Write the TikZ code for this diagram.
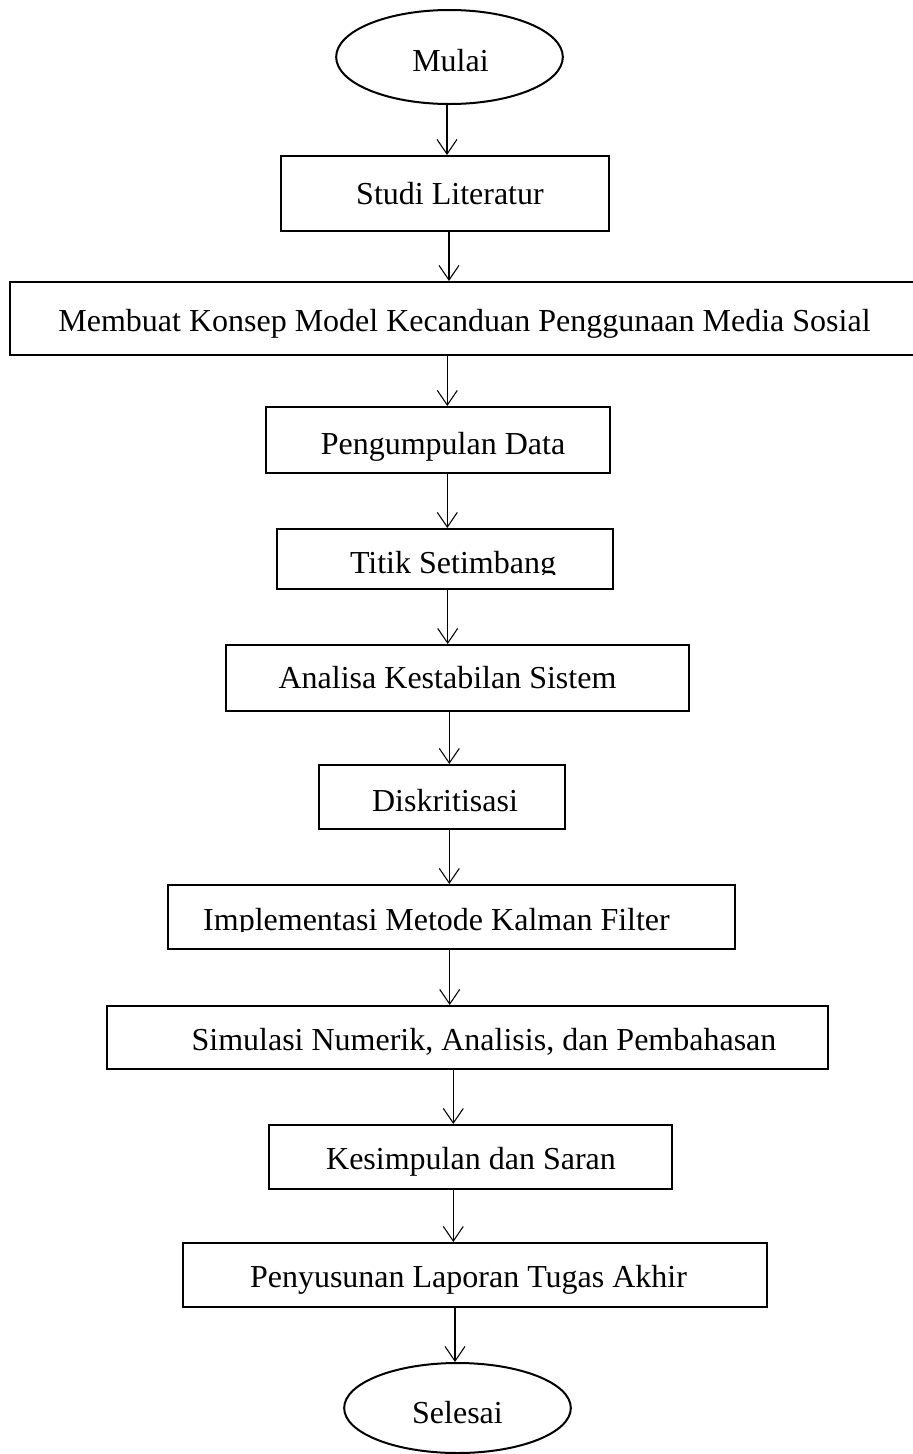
\documentclass[tikz,border=0pt]{standalone}
\usepackage{fontspec}
\setmainfont{Liberation Serif}
\usetikzlibrary{arrows.meta,shapes.geometric,fit}

\tikzset{
  box/.style={draw, line width=1.5pt, inner sep=0pt},
  oval/.style={draw, ellipse, line width=1.5pt, inner sep=0pt, minimum width=170pt},
  lbl/.style={anchor=base, inner sep=0pt, font=\fontsize{24}{28}\selectfont},
  arr/.style={-{Straight Barb[length=11pt,width=15pt]}, line width=0.8pt}
}

\begin{document}
\begin{tikzpicture}[x=0.75pt, y=-0.75pt]
    % Page frame
    \clip (0,0) rectangle (913,1454);

    % Start and end
    \node[oval, minimum height=70.5pt] (mulai) at (449.5,57) {};
    \node[oval, minimum height=67.5pt] (selesai) at (457.5,1408) {};

    % Steps
    \node[box, fit={(281,156) (609,231)}] (studi) {};
    \node[box, fit={(10,282) (930,355)}] (konsep) {};
    \node[box, fit={(266,407) (610,473)}] (data) {};
    \node[box, fit={(277,529) (612.5,589)}] (titik) {};
    \node[box, fit={(226,645) (689,711)}] (analisa) {};
    \node[box, fit={(319,765) (565,829)}] (diskrit) {};
    \node[box, fit={(168,885) (735,949)}] (kalman) {};
    \node[box, fit={(107,1006) (828,1069)}] (simulasi) {};
    \node[box, fit={(269,1125) (672,1189)}] (saran) {};
    \node[box, fit={(183,1243) (767,1307)}] (laporan) {};

    % Labels
    \node[lbl] (mulai-t) at (450.5,71) {Mulai};
    \node[lbl] (studi-t) at (450,204) {Studi Literatur};
    \node[lbl] (konsep-t) at (464.5,331) {Membuat Konsep Model Kecanduan Penggunaan Media Sosial};
    \node[lbl] (data-t) at (443,454) {Pengumpulan Data};
    \node[lbl] (analisa-t) at (447.5,688) {Analisa Kestabilan Sistem};
    \node[lbl] (diskrit-t) at (445,811) {Diskritisasi};
    \node[lbl] (simulasi-t) at (484,1050) {Simulasi Numerik, Analisis, dan Pembahasan};
    \node[lbl] (saran-t) at (471,1169) {Kesimpulan dan Saran};
    \node[lbl] (laporan-t) at (468.5,1287) {Penyusunan Laporan Tugas Akhir};
    \node[lbl] (selesai-t) at (457.5,1423) {Selesai};

    % These two are cut off at the baseline
    \begin{scope}
        \clip (277,529) rectangle (613,574);
        \node[lbl] (titik-t) at (453,573) {Titik Setimbang};
    \end{scope}
    \begin{scope}
        \clip (168,885) rectangle (735,931);
        \node[lbl] (kalman-t) at (436.5,930) {Implementasi Metode Kalman Filter};
    \end{scope}

    % Arrows
    \foreach \a/\b/\x in {mulai/studi/447, studi/konsep/449, konsep/data/447.3,
        data/titik/447.3, titik/analisa/447.7, analisa/diskrit/449.3,
        diskrit/kalman/449.3, kalman/simulasi/449.7, simulasi/saran/453.3,
        saran/laporan/453.3, laporan/selesai/455}
        \draw[arr] (\a.south -| \x,0) -- (\b.north -| \x,0);
\end{tikzpicture}
\end{document}
